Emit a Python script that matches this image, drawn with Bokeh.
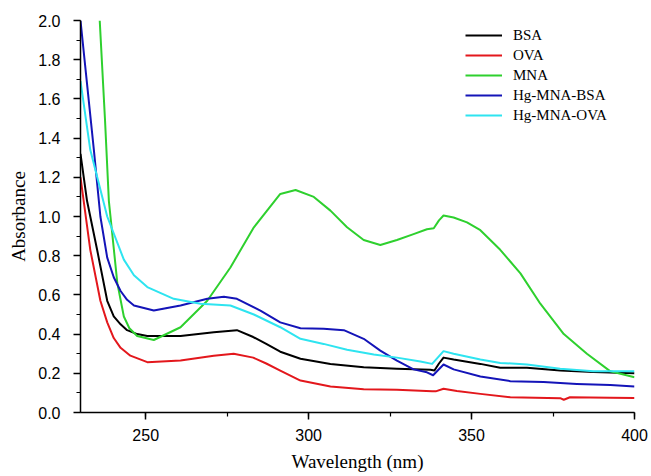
from bokeh.plotting import figure
from bokeh.models import Range1d, Legend, LegendItem, SingleIntervalTicker, CustomJSTickFormatter
from bokeh.embed import file_html
from bokeh.resources import INLINE

# ---- data ----
bsa_wl = [230, 232, 235.1, 238.2, 240.2, 242.3, 244.3, 247.4, 250.5, 255, 260.7, 270.9, 278, 283, 287, 291.3,
          297.5, 306.7, 316.9, 327.1, 337.4, 338.6, 340, 341.4, 344.5, 352.7, 358.8, 367, 377.2, 387.4, 400]
bsa_abs = [1.32, 1.08, 0.83, 0.57, 0.49, 0.45, 0.42, 0.40, 0.39, 0.39, 0.39, 0.41, 0.42, 0.385, 0.35, 0.31,
           0.274, 0.248, 0.231, 0.223, 0.218, 0.214, 0.25, 0.28, 0.27, 0.248, 0.228, 0.228, 0.214, 0.206, 0.20]

ova_wl = [230, 233, 236.1, 238.2, 240.2, 242.3, 245.3, 250.5, 260.7, 270.9, 277, 283, 287, 291.3, 297.5, 306.7,
          316.9, 327.1, 337.9, 339, 341.4, 345.5, 352.7, 361.9, 377.2, 378.3, 380.2, 392.6, 400]
ova_abs = [1.20, 0.83, 0.57, 0.46, 0.38, 0.33, 0.29, 0.257, 0.265, 0.29, 0.30, 0.28, 0.25, 0.214, 0.163, 0.133,
           0.119, 0.116, 0.109, 0.108, 0.121, 0.11, 0.095, 0.078, 0.073, 0.065, 0.078, 0.075, 0.074]

mna_wl = [235.9, 237.5, 238.7, 239.2, 241.3, 243.3, 245, 247.4, 252.5, 260.7, 268.9, 276, 283.2, 291.3, 296,
          301.6, 306.7, 311.8, 316.9, 322, 327.1, 332.2, 336.3, 338.4, 340, 341.4, 344.5, 348.6, 352.7,
          358.8, 365, 371.1, 378.3, 385.4, 392.6, 400]
mna_abs = [2.0, 1.5, 1.08, 1.0, 0.66, 0.49, 0.43, 0.39, 0.37, 0.435, 0.57, 0.74, 0.945, 1.115, 1.135,
           1.10, 1.03, 0.945, 0.88, 0.855, 0.88, 0.91, 0.935, 0.94, 0.98, 1.005, 0.995, 0.97, 0.93,
           0.83, 0.71, 0.555, 0.40, 0.30, 0.21, 0.18]

hgb_wl = [230, 234.1, 236.1, 238.2, 240.2, 242.3, 244.3, 246.4, 252.5, 260.7, 268.9, 274, 278, 285.2, 291.3, 297.5,
          304.6, 310.8, 316.9, 322, 327.1, 332.2, 336.3, 338.2, 341.4, 344.5, 352.7, 361.9, 372.1,
          382.3, 392.6, 400]
hgb_abs = [2.0, 1.34, 1.0, 0.79, 0.69, 0.62, 0.575, 0.546, 0.52, 0.546, 0.58, 0.59, 0.58, 0.52, 0.46, 0.43,
           0.427, 0.42, 0.376, 0.316, 0.265, 0.22, 0.205, 0.19, 0.245, 0.22, 0.184, 0.16, 0.155,
           0.146, 0.14, 0.133]

hgo_wl = [230, 233, 238.2, 243.3, 246.4, 250.5, 258.6, 266.8, 276, 283.2, 291.3, 297.5, 304.6, 311.8, 320,
          327.1, 334.3, 337.9, 341.4, 344.5, 352.7, 358.8, 367, 377.2, 387.4, 400]
hgo_abs = [1.69, 1.34, 1.0, 0.78, 0.70, 0.64, 0.58, 0.555, 0.546, 0.50, 0.435, 0.376, 0.35, 0.32, 0.296,
           0.28, 0.26, 0.248, 0.313, 0.30, 0.27, 0.253, 0.245, 0.223, 0.21, 0.21]

series_names = ["BSA", "OVA", "MNA", "Hg-MNA-BSA", "Hg-MNA-OVA"]
series_colors = ["#000000", "#e3171c", "#2ed02e", "#1414b8", "#2ee4f0"]

p = figure(width=648, height=476, output_backend="svg", toolbar_location=None,
           x_range=Range1d(230, 400), y_range=Range1d(0, 2.0),
           min_border_left=80, min_border_right=14, min_border_top=20, min_border_bottom=64)
p.xgrid.visible = False
p.ygrid.visible = False
p.outline_line_color = None

data = [(bsa_wl, bsa_abs), (ova_wl, ova_abs), (mna_wl, mna_abs), (hgb_wl, hgb_abs), (hgo_wl, hgo_abs)]
renderers = []
for (xs, ys), c in zip(data, series_colors):
    r = p.line(xs, ys, line_color=c, line_width=2, line_join="round")
    renderers.append(r)

p.xaxis.ticker = SingleIntervalTicker(interval=50, num_minor_ticks=2)
p.yaxis.ticker = SingleIntervalTicker(interval=0.2, num_minor_ticks=2)
p.yaxis.formatter = CustomJSTickFormatter(code="return tick.toFixed(1);")

for ax in (p.xaxis[0], p.yaxis[0]):
    ax.axis_line_width = 1.5
    ax.axis_line_color = "black"
    ax.major_tick_line_color = "black"
    ax.minor_tick_line_color = "black"
    ax.major_tick_line_width = 1.5
    ax.minor_tick_line_width = 1.2
    ax.major_tick_in = 0
    ax.major_tick_out = 7
    ax.minor_tick_in = 0
    ax.minor_tick_out = 4
    ax.major_label_text_font = "Liberation Sans"
    ax.major_label_text_font_size = "16px"
    ax.major_label_text_color = "black"
    ax.axis_label_text_font = "Liberation Serif"
    ax.axis_label_text_font_size = "19px"
    ax.axis_label_text_font_style = "normal"
    ax.axis_label_text_color = "black"

p.xaxis.axis_label = "Wavelength (nm)"
p.yaxis.axis_label = "Absorbance"
p.xaxis.major_label_standoff = 9
p.yaxis.major_label_standoff = 13
p.xaxis.axis_label_standoff = 7
p.yaxis.axis_label_standoff = 6

items = [LegendItem(label=n, renderers=[r]) for n, r in zip(series_names, renderers)]
legend = Legend(items=items, location=(385, 287))
legend.border_line_color = None
legend.background_fill_alpha = 0
legend.padding = 0
legend.margin = 0
legend.spacing = 0
legend.glyph_width = 37
legend.glyph_height = 20
legend.label_height = 20
legend.label_standoff = 11
legend.label_text_font = "Liberation Serif"
legend.label_text_font_size = "15px"
legend.label_text_color = "black"
p.add_layout(legend, "center")

open("out.html", "w").write(file_html(p, INLINE))
